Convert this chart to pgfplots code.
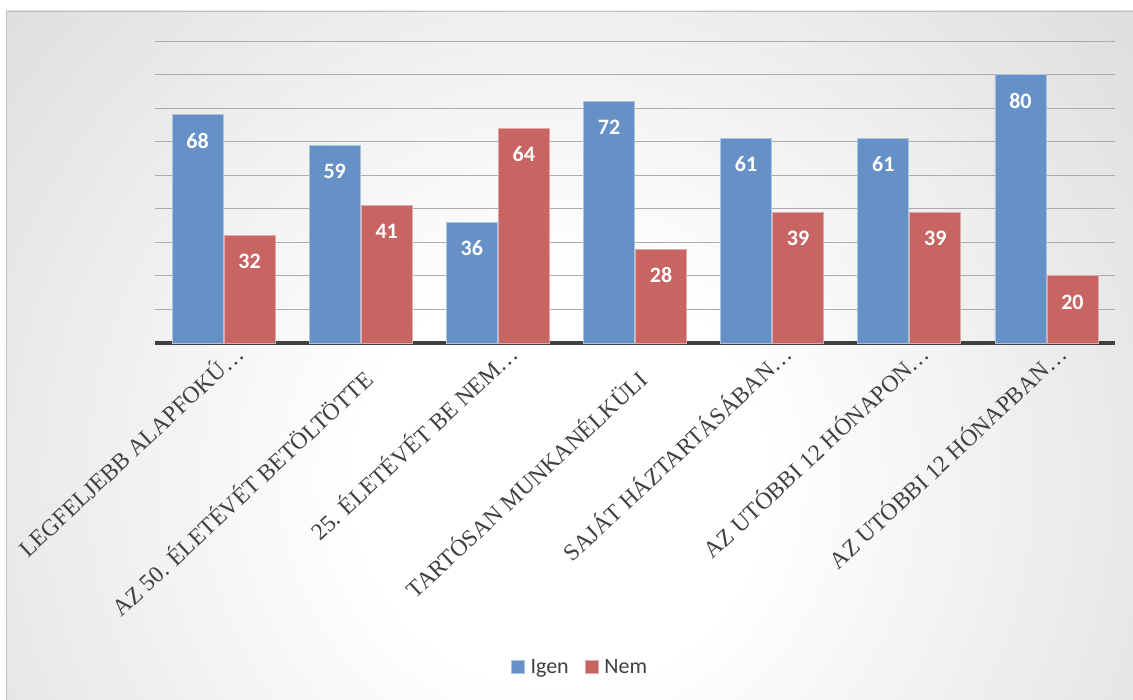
\documentclass[border=0pt]{standalone}
\usepackage{pgfplots}
\pgfplotsset{compat=1.18}
\usepackage{fontspec}
\setmainfont{Liberation Serif}
\newfontfamily\carlito{Carlito}
\definecolor{igen}{RGB}{101,145,198}
\definecolor{nem}{RGB}{200,101,99}
\definecolor{txt}{RGB}{64,64,64}
\definecolor{bgout}{RGB}{192,192,192}
\definecolor{gridc}{RGB}{172,172,172}
\pgfdeclareradialshading{bgshade}{\pgfpoint{0bp}{0bp}}{color(0bp)=(white); color(6bp)=(white); color(36bp)=(bgout); color(50bp)=(bgout)}
\tikzset{lbl/.style={rotate=43, anchor=base east, font=\fontsize{23.5}{28}\selectfont, text=txt, inner sep=0pt}}
\begin{document}
\begin{tikzpicture}[x=1pt,y=1pt]
\path[use as bounding box] (0,0) rectangle (1133,700);
\begin{scope}
\clip (6,0) rectangle (1133,689);
\fill[bgout] (6,0) rectangle (1133,689);
\shade[shading=bgshade] (560,220) circle (850);
\end{scope}
\draw[gray!50, line width=1pt] (6.5,0) -- (6.5,688.5) -- (1133,688.5);
\begin{axis}[
  at={(155pt,357pt)}, anchor=south west, scale only axis,
  width=960pt, height=302pt,
  ymin=0, ymax=90, xmin=-0.5, xmax=6.5,
  ybar=1pt, bar width=51pt,
  clip=false,
  /pgf/number format/assume math mode=true,
  axis x line*=bottom, axis y line*=left,
  y axis line style={draw=none},
  x axis line style={line width=4pt, color=txt, -},
  xtick=\empty,
  ytick={10,20,...,90}, yticklabels={},
  major tick length=0pt,
  ymajorgrids, major grid style={gridc, line width=1pt},
  nodes near coords,
  every node near coord/.append style={font=\carlito\bfseries\fontsize{22}{26}\selectfont, text=white, anchor=center, yshift=-26pt},
  legend style={at={(0.4427,-1.073)}, anchor=center, draw=none, fill=none,
    font=\carlito\fontsize{22}{26}\selectfont, text=txt,
    /tikz/every odd column/.append style={column sep=4pt},
    /tikz/every even column/.append style={column sep=14pt}},
  legend columns=2,
  legend image code/.code={\draw[#1, line width=0.6pt] (0pt,-6.5pt) rectangle (13pt,6.5pt);},
]
\addplot[fill=igen, draw=igen!55!white, line width=0.8pt] coordinates {(0,68) (1,59) (2,36) (3,72) (4,61) (5,61) (6,80)};
\addplot[fill=nem, draw=nem!55!white, line width=0.8pt] coordinates {(0,32) (1,41) (2,64) (3,28) (4,39) (5,39) (6,20)};
\legend{Igen, Nem}
\node[xshift=22pt, yshift=-13pt, lbl] at (axis cs:0,0) {LEGFELJEBB ALAPFOKÚ…};
\node[xshift=14pt, yshift=-39pt, lbl] at (axis cs:1,0) {AZ 50. ÉLETÉVÉT BETÖLTÖTTE};
\node[xshift=22pt, yshift=-13pt, lbl] at (axis cs:2,0) {25. ÉLETÉVÉT BE NEM…};
\node[xshift=14pt, yshift=-39pt, lbl] at (axis cs:3,0) {TARTÓSAN MUNKANÉLKÜLI};
\node[xshift=22pt, yshift=-13pt, lbl] at (axis cs:4,0) {SAJÁT HÁZTARTÁSÁBAN…};
\node[xshift=22pt, yshift=-13pt, lbl] at (axis cs:5,0) {AZ UTÓBBI 12 HÓNAPON…};
\node[xshift=22pt, yshift=-13pt, lbl] at (axis cs:6,0) {AZ UTÓBBI 12 HÓNAPBAN…};
\end{axis}
\end{tikzpicture}
\end{document}
